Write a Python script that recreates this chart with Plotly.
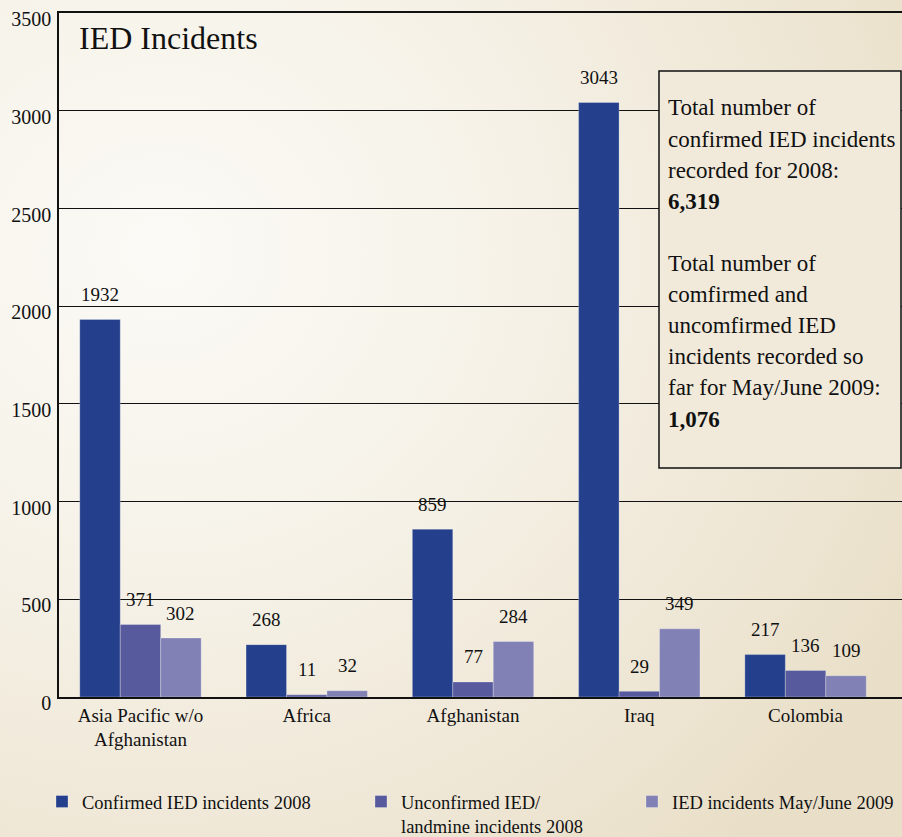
import base64
import plotly.graph_objects as go

# ---------------- data ----------------
categories = ["Asia Pacific w/o<br>Afghanistan", "Africa", "Afghanistan", "Iraq", "Colombia"]
series_names = ["Confirmed IED incidents 2008",
                "Unconfirmed IED/<br>landmine incidents 2008",
                "IED incidents May/June 2009"]
confirmed_2008 = [1932, 268, 859, 3043, 217]
unconfirmed_2008 = [371, 11, 77, 29, 136]
may_june_2009 = [302, 32, 284, 349, 109]
series_colors = ["#243f8b", "#575a9c", "#8181b5"]
y_ticks = [0, 500, 1000, 1500, 2000, 2500, 3000, 3500]
title_text = "IED Incidents"
box_lines = ["Total number of", "confirmed IED incidents", "recorded for 2008:", "<b>6,319</b>", "",
             "Total number of", "comfirmed and", "uncomfirmed IED", "incidents recorded so",
             "far for May/June 2009:", "<b>1,076</b>"]

FONT = "Liberation Serif"
W, H = 902, 837
ML, MR, MT, MB = 59, 0, 13, 140
PW, PH = W - ML - MR, H - MT - MB

series_values = [confirmed_2008, unconfirmed_2008, may_june_2009]
BARGAP = 0.27

fig = go.Figure()
legend_ids = ["legend", "legend2", "legend3"]
for name, vals, col, lg in zip(series_names, series_values, series_colors, legend_ids):
    fig.add_trace(go.Bar(
        x=categories, y=vals, name=name,
        marker=dict(color=col, line=dict(color="rgba(255,255,255,0.35)", width=0.8)),
        legend=lg, hoverinfo="x+y",
    ))

# value labels above bars
bar_w = (1 - BARGAP) / len(series_values)
for s, vals in enumerate(series_values):
    off = (s - (len(series_values) - 1) / 2) * bar_w
    for i, v in enumerate(vals):
        fig.add_annotation(x=i + off, y=v, text=str(v), showarrow=False,
                           xref="x", yref="y", yanchor="middle", yshift=25,
                           font=dict(family=FONT, size=19, color="#111"))

# title
fig.add_annotation(text=title_text, xref="paper", yref="paper",
                   x=(77 - ML) / PW, y=(MT + PH - 38) / PH, xanchor="left", yanchor="middle",
                   showarrow=False, font=dict(family=FONT, size=32, color="#111"))

# info box
fig.add_shape(type="rect", xref="paper", yref="paper",
              x0=(659 - ML) / PW, x1=(901 - ML) / PW,
              y0=(MT + PH - 468) / PH, y1=(MT + PH - 71) / PH,
              line=dict(color="#111", width=1.5), fillcolor="#f1eadb", layer="above")
line_h = 31.1
for k, t in enumerate(box_lines):
    if not t:
        continue
    yc = 108 + k * line_h
    fig.add_annotation(text=t, xref="paper", yref="paper",
                       x=(666 - ML) / PW, y=(MT + PH - yc) / PH,
                       xanchor="left", yanchor="middle", showarrow=False,
                       font=dict(family=FONT, size=23, color="#111"))

# background parchment gradient
svg = ('<svg xmlns="http://www.w3.org/2000/svg" width="902" height="837">'
       '<defs><radialGradient id="g" cx="0.18" cy="0.3" r="0.95">'
       '<stop offset="0" stop-color="#fbfaf6"/>'
       '<stop offset="0.4" stop-color="#f6f2e8"/>'
       '<stop offset="0.75" stop-color="#efe7d6"/>'
       '<stop offset="1" stop-color="#e9dfc8"/>'
       '</radialGradient></defs>'
       '<rect width="902" height="837" fill="url(#g)"/></svg>')
src = "data:image/svg+xml;base64," + base64.b64encode(svg.encode()).decode()
fig.add_layout_image(source=src, xref="paper", yref="paper",
                     x=-ML / PW, y=(MT + PH) / PH, sizex=W / PW, sizey=H / PH,
                     xanchor="left", yanchor="top", sizing="stretch", layer="below", opacity=1)

leg_common = dict(orientation="h", font=dict(family=FONT, size=18.5, color="#111"),
                  bgcolor="rgba(0,0,0,0)", yanchor="top", xanchor="left",
                  valign="top", itemwidth=30, tracegroupgap=0)
leg_top = (MT + PH - 783) / PH
fig.update_layout(
    width=W, height=H,
    margin=dict(l=ML, r=MR, t=MT, b=MB, pad=0, autoexpand=False),
    paper_bgcolor="#f3eee2", plot_bgcolor="rgba(0,0,0,0)",
    barmode="group", bargap=BARGAP, bargroupgap=0,
    font=dict(family=FONT, color="#111"),
    showlegend=True,
    legend=dict(x=(42 - ML) / PW, y=leg_top, **leg_common),
    legend2=dict(x=(361 - ML) / PW, y=leg_top, **leg_common),
    legend3=dict(x=(632 - ML) / PW, y=leg_top, **leg_common),
    xaxis=dict(range=[-0.49, 4.58], showline=True, linecolor="#111", linewidth=1.5, mirror=True,
               ticks="", showgrid=False, tickfont=dict(family=FONT, size=19, color="#111"),
               fixedrange=True, automargin=False),
    yaxis=dict(range=[0, 3501], tickvals=y_ticks, showline=True, linecolor="#111", linewidth=1.5,
               showgrid=True, gridcolor="#111", gridwidth=1.3, zeroline=False, ticks="",
               ticklabelshift=6, ticklabelstandoff=2, automargin=False,
               tickfont=dict(family=FONT, size=20, color="#111"), fixedrange=True),
)

fig.write_html("out.html")
